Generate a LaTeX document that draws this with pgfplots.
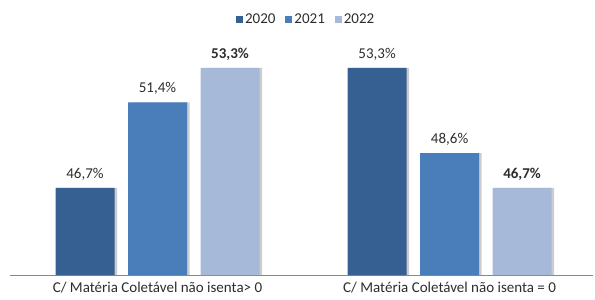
\documentclass[border=0pt]{standalone}
\usepackage{pgfplots}
\pgfplotsset{compat=1.18}
\usepackage{fontspec}
\setmainfont{Carlito}
\usetikzlibrary{shadows}
\definecolor{c20}{RGB}{55,96,146}
\definecolor{c21}{RGB}{74,126,187}
\definecolor{c22}{RGB}{167,185,217}
\definecolor{txt}{RGB}{45,45,45}
\definecolor{axl}{RGB}{137,137,137}
\begin{document}
\begin{tikzpicture}
\begin{axis}[
  scale only axis,
  width=583pt, height=235pt,
  ybar, bar width=59pt,
  xmin=-0.505, xmax=1.491,
  ymin=41.9, ymax=54.83,
  axis x line*=bottom,
  axis y line=none,
  x axis line style={draw=axl, line width=0.8pt},
  xtick={0,1},
  xticklabels={C/ Matéria Coletável não isenta> 0, C/ Matéria Coletável não isenta = 0},
  xticklabel style={font=\fontsize{15}{17}\selectfont, text=txt, yshift=-4pt},
  major tick length=0pt,
  ytick=\empty,
  clip mode=individual,
  point meta=explicit symbolic,
  nodes near coords,
  nodes near coords style={font=\fontsize{15}{17}\selectfont, text=txt, anchor=south, yshift=4pt},
  legend columns=3,
  legend style={draw=none, at={(axis description cs:0.508,1.045)}, anchor=south,
    font=\fontsize{15}{17}\selectfont, text=txt,
    /tikz/every even column/.append style={column sep=8pt}},
  legend image code/.code={\fill[#1] (0pt,-3.5pt) rectangle (7pt,3.5pt);},
]
\addlegendimage{fill=c20, draw=none}
\addlegendentry{2020}
\addlegendimage{fill=c21, draw=none}
\addlegendentry{2021}
\addlegendimage{fill=c22, draw=none}
\addlegendentry{2022}
\addplot[fill=c20, draw=none, forget plot, bar shift=-72.5pt, drop shadow={shadow xshift=2.5pt, shadow yshift=0pt, opacity=0.4}] coordinates {(0,46.7) [46,7\%] (1,53.3) [53,3\%]};
\addplot[fill=c21, draw=none, forget plot, bar shift=0pt, drop shadow={shadow xshift=2.5pt, shadow yshift=0pt, opacity=0.4}] coordinates {(0,51.4) [51,4\%] (1,48.6) [48,6\%]};
\addplot[fill=c22, draw=none, forget plot, bar shift=72.5pt, drop shadow={shadow xshift=2.5pt, shadow yshift=0pt, opacity=0.4}] coordinates {(0,53.3) [\textbf{53,3\%}] (1,46.7) [\textbf{46,7\%}]};
\end{axis}
\pgfresetboundingbox
\path (current axis.south west) ++(-10pt,-25pt) rectangle ++(595pt,300pt);
\end{tikzpicture}
\end{document}
